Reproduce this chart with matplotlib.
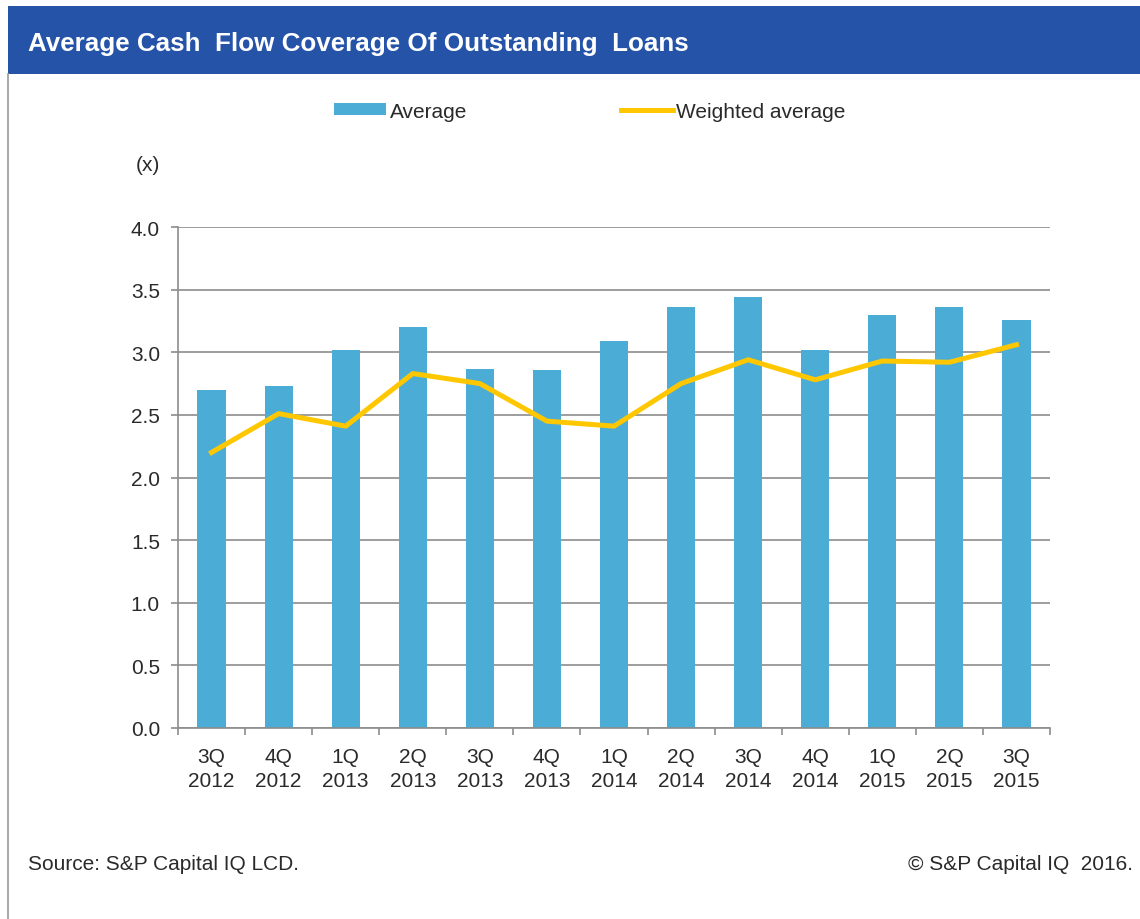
import numpy as np
import matplotlib.pyplot as plt
from matplotlib.patches import Rectangle, Patch
from matplotlib.lines import Line2D

plt.rcParams['font.family'] = ['Liberation Sans', 'DejaVu Sans']

quarters = ['3Q\n2012', '4Q\n2012', '1Q\n2013', '2Q\n2013', '3Q\n2013', '4Q\n2013', '1Q\n2014',
            '2Q\n2014', '3Q\n2014', '4Q\n2014', '1Q\n2015', '2Q\n2015', '3Q\n2015']
average = [2.70, 2.73, 3.02, 3.20, 2.87, 2.86, 3.09, 3.36, 3.44, 3.02, 3.30, 3.36, 3.26]
weighted = [2.20, 2.51, 2.41, 2.83, 2.75, 2.45, 2.41, 2.75, 2.94, 2.78, 2.93, 2.92, 3.06]
yticks = [0.0, 0.5, 1.0, 1.5, 2.0, 2.5, 3.0, 3.5, 4.0]

bar_color = '#4BACD6'
line_color = '#FFC700'
header_color = '#2453A8'
grid_color = '#8C8C8C'
text_color = '#2A2A2A'
fs = 15

W, H = 1140, 920
fig = plt.figure(figsize=(W / 100, H / 100), dpi=100)
fig.patch.set_facecolor('white')

# header banner and left frame line
fig.add_artist(Rectangle((8 / W, 1 - 75 / H), 1 - 8 / W, 68 / H, transform=fig.transFigure,
                         facecolor=header_color, edgecolor='none'))
fig.add_artist(Line2D([8 / W, 8 / W], [0, 1 - 75 / H], transform=fig.transFigure,
                      color='#9A9A9A', lw=1.2))
fig.text(28 / W, 1 - 51 / H, 'Average Cash  Flow Coverage Of Outstanding  Loans', color='white',
         fontsize=18.7, fontweight='bold', va='baseline', ha='left')

ax = fig.add_axes([178 / W, 1 - 729 / H, (1050 - 178) / W, (729 - 228) / H])
x = np.arange(len(quarters))
ax.bar(x, average, width=0.42, color=bar_color, zorder=2)
ax.plot(x, weighted, color=line_color, lw=3.6, solid_joinstyle='round', zorder=3)

ax.set_xlim(-0.5, len(quarters) - 0.5)
ax.set_ylim(0, 4.0)
ax.set_yticks(yticks)
ax.set_yticklabels([f'{v:.1f}' for v in yticks])
ax.set_xticks(x)
ax.set_xticklabels(quarters, linespacing=1.3)
ax.set_xticks(np.arange(len(quarters) + 1) - 0.5, minor=True)
ax.tick_params(axis='x', which='major', length=0, pad=14, labelsize=fs, colors=text_color)
ax.tick_params(axis='x', which='minor', length=5, color=grid_color, width=1.2)
ax.tick_params(axis='y', length=5, color=grid_color, width=1.2, pad=8, labelsize=fs,
               labelcolor=text_color)
ax.grid(axis='y', color=grid_color, lw=1.2, zorder=0)
ax.set_axisbelow(True)
for side in ['top', 'right']:
    ax.spines[side].set_visible(False)
for side in ['left', 'bottom']:
    ax.spines[side].set_color(grid_color)
    ax.spines[side].set_linewidth(1.2)

fig.text(148 / W, 1 - 166 / H, '(x)', fontsize=fs, color=text_color, va='center', ha='center')

handles = [Patch(facecolor=bar_color, edgecolor='none'),
           Line2D([], [], color=line_color, lw=3.6)]
fig.legend(handles, ['Average', 'Weighted average'], loc='center', ncol=2,
           bbox_to_anchor=(590 / W, 1 - 112 / H), frameon=False, fontsize=fs,
           handlelength=2.5, handleheight=0.45, handletextpad=0.15, columnspacing=7.4,
           labelcolor=text_color)

fig.text(28 / W, 1 - 865 / H, 'Source: S&P Capital IQ LCD.', fontsize=fs, color=text_color,
         va='center', ha='left')
fig.text(1133 / W, 1 - 865 / H, '© S&P Capital IQ  2016.', fontsize=fs, color=text_color,
         va='center', ha='right')

fig.savefig('out.png', dpi=100, facecolor='white')
